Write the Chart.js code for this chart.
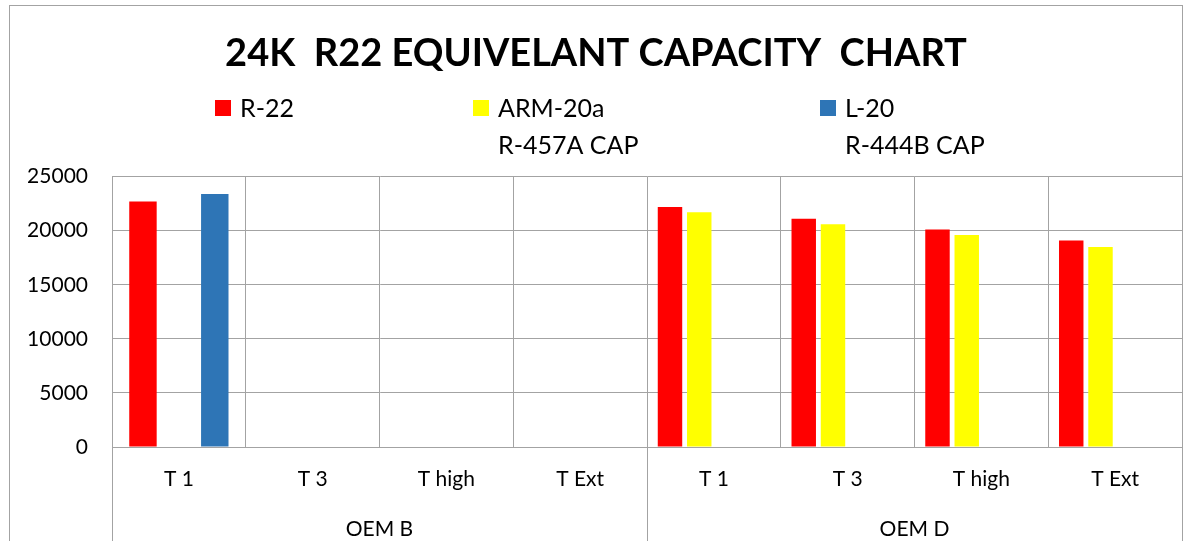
<!DOCTYPE html>
<html>
<head>
<meta charset="utf-8">
<script src="https://cdn.jsdelivr.net/npm/chart.js@4.4.1/dist/chart.umd.min.js"></script>
<style>
  html, body { margin: 0; padding: 0; background: #fff; }
  #wrap { width: 1184px; height: 541px; position: relative; }
</style>
</head>
<body>
<div id="wrap"><canvas id="c"></canvas></div>
<script>
// ---- data ----
const chartTitle = '24K  R22 EQUIVELANT CAPACITY  CHART';
const categories = ['T 1', 'T 3', 'T high', 'T Ext', 'T 1', 'T 3', 'T high', 'T Ext'];
const groupNames = ['OEM B', 'OEM D'];
const groupSizes = [4, 4];
const seriesNames = [['R-22'], ['ARM-20a', 'R-457A CAP'], ['L-20', 'R-444B CAP']];
const seriesColors = ['#FF0000', '#FFFF00', '#2E75B6'];
const r22    = [22700, null, null, null, 22200, 21100, 20100, 19100];
const arm20a = [null, null, null, null, 21700, 20600, 19600, 18500];
const l20    = [23400, null, null, null, null, null, null, null];
const yTicks = [0, 5000, 10000, 15000, 20000, 25000];

function groupStart(g) { let s = 0; for (let i = 0; i < g; i++) s += groupSizes[i]; return s; }
function mask(arr, g) {
  const s = groupStart(g), e = s + groupSizes[g];
  return arr.map((v, i) => (i >= s && i < e) ? v : null);
}

// bar slot layout: 4 slots per category (red, yellow, empty, blue);
// OEM B and OEM D bars use different widths, as in the original
const layoutB = { categoryPercentage: 0.716, barPercentage: 1.146 };
const layoutD = { categoryPercentage: 0.875, barPercentage: 0.836 };

const datasets = [
  Object.assign({ label: seriesNames[0].join(' '), data: mask(r22, 0), backgroundColor: seriesColors[0], stack: 's1' }, layoutB),
  Object.assign({ label: seriesNames[1].join(' '), data: arm20a, backgroundColor: seriesColors[1], stack: 's2' }, layoutD),
  Object.assign({ label: '', data: categories.map(() => null), stack: 's3' }, layoutD),
  Object.assign({ label: seriesNames[2].join(' '), data: l20, backgroundColor: seriesColors[2], stack: 's4' }, layoutB),
  Object.assign({ label: seriesNames[0].join(' '), data: mask(r22, 1), backgroundColor: seriesColors[0], stack: 's1' }, layoutD)
];

const GRID = '#a3a3a3';
const FONT = 'Lato, "Open Sans", sans-serif';

const decor = {
  id: 'decor',
  beforeDraw(chart) {
    const ctx = chart.ctx;
    ctx.save();
    ctx.strokeStyle = GRID;
    ctx.lineWidth = 1;
    ctx.strokeRect(9.5, 5.5, 1173, 700);
    ctx.restore();
  },
  afterDraw(chart) {
    const ctx = chart.ctx;
    const xs = chart.scales.x;
    const area = chart.chartArea;
    const half = (xs.getPixelForValue(1) - xs.getPixelForValue(0)) / 2;
    ctx.save();
    ctx.strokeStyle = GRID;
    ctx.lineWidth = 1;
    ctx.fillStyle = '#000';
    ctx.font = '21px ' + FONT;
    ctx.textAlign = 'center';
    ctx.textBaseline = 'middle';
    groupNames.forEach((name, g) => {
      const s = groupStart(g), e = s + groupSizes[g] - 1;
      const left = xs.getPixelForValue(s) - half;
      const right = xs.getPixelForValue(e) + half;
      [left, right].forEach(px => {
        const p = Math.round(px) + 0.5;
        ctx.beginPath(); ctx.moveTo(p, area.bottom); ctx.lineTo(p, chart.height); ctx.stroke();
      });
      ctx.fillText(name, (left + right) / 2, 529);
    });
    // legend
    const legendX = [215, 473, 820];
    ctx.textAlign = 'left';
    ctx.font = '25px ' + FONT;
    seriesNames.forEach((lines, k) => {
      ctx.fillStyle = seriesColors[k];
      ctx.fillRect(legendX[k], 100, 16, 16);
      ctx.fillStyle = '#000';
      lines.forEach((t, j) => ctx.fillText(t, legendX[k] + 25, 109 + j * 37));
    });
    ctx.restore();
  }
};

new Chart(document.getElementById('c'), {
  type: 'bar',
  data: { labels: categories, datasets },
  plugins: [decor],
  options: {
    responsive: true,
    maintainAspectRatio: false,
    animation: false,
    layout: { padding: { left: 10, right: 2, top: 0, bottom: 0 } },
    plugins: {
      legend: { display: false },
      tooltip: { enabled: false },
      title: {
        display: true, text: chartTitle, color: '#000',
        font: { family: FONT, size: 38, weight: 'bold' },
        padding: { top: 31, bottom: 100 }
      }
    },
    scales: {
      y: {
        min: 0, max: 25000,
        afterBuildTicks(s) { s.ticks = yTicks.map(v => ({ value: v })); },
        afterFit(s) { s.width = 102; },
        ticks: { color: '#000', padding: 24, font: { family: FONT, size: 21 }, callback: v => String(v) },
        grid: { color: GRID, drawTicks: false },
        border: { color: GRID }
      },
      x: {
        afterFit(s) { s.height = 94; },
        ticks: { color: '#000', padding: 20, font: { family: FONT, size: 21 }, maxRotation: 0, autoSkip: false },
        grid: { color: GRID, drawTicks: false, offset: true },
        border: { color: GRID }
      }
    }
  }
});
</script>
</body>
</html>
